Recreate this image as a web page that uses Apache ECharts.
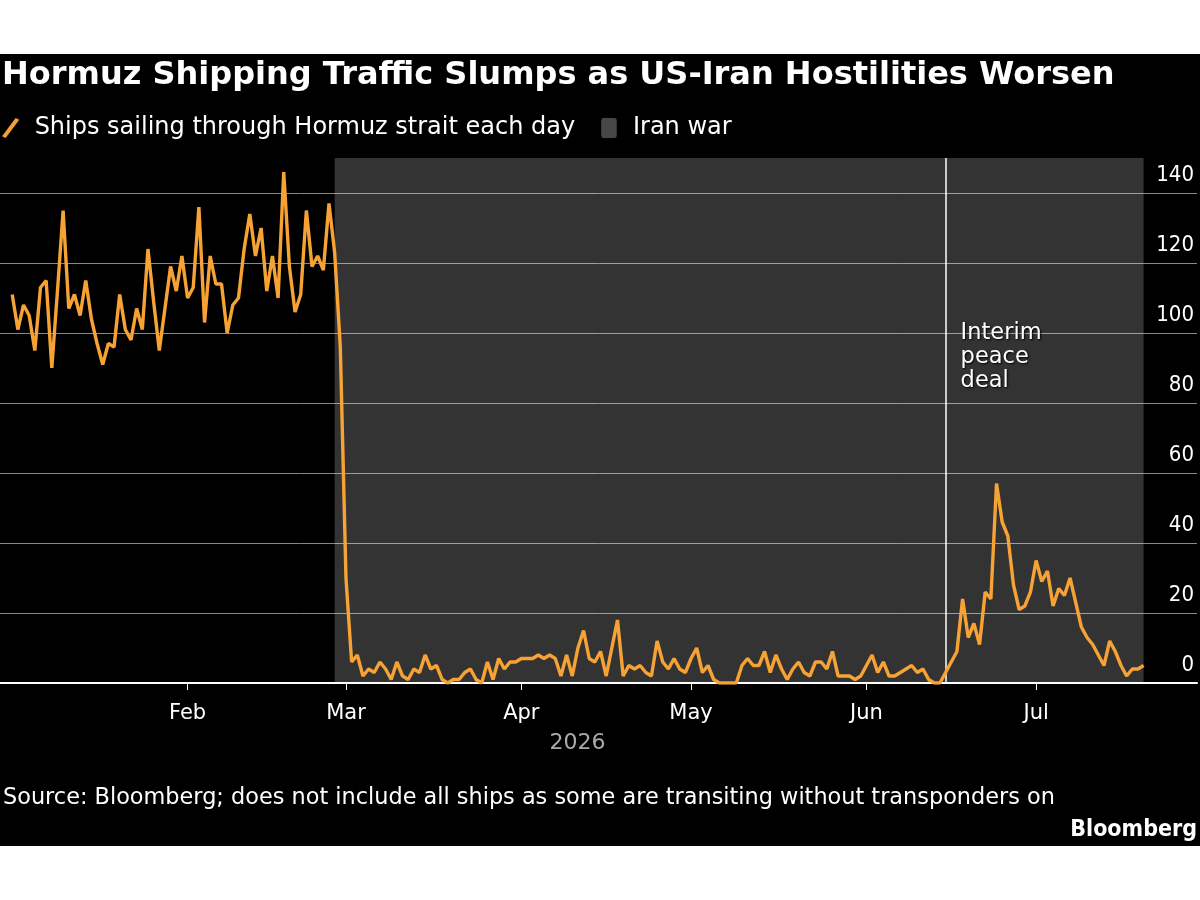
<!DOCTYPE html>
<html>
<head>
<meta charset="utf-8">
<script src="https://cdn.jsdelivr.net/npm/echarts@6/dist/echarts.min.js"></script>
<style>
  html, body { margin: 0; padding: 0; background: #fff; }
  #chart { position: absolute; left: 0; top: 54px; width: 1200px; height: 792px; }
</style>
</head>
<body>
<div id="chart"></div>
<script>
// daily ship counts, 2026 (one value per day, starting Jan 1)
var janShips = [111,101,108,105,95,113,115,90,112,135,107,111,105,115,104,97,91,97,96,111,101,98,107,101,124,109,95,107,119,112,122];
var febShips = [110,113,136,103,122,114,114,100,108,110,124,134,122,130,112,122,110,146,119,106,111,135,119,122,118,137,123,96];
var marShips = [30,6,8,2,4,3,6,4,1,6,2,1,4,3,8,4,5,1,0,1,1,3,4,1,0,6,1,7,4,6,6];
var aprShips = [7,7,7,8,7,8,7,2,8,2,10,15,7,6,9,2,10,18,2,5,4,5,3,2,12,6,4,7,4,3];
var mayShips = [7,10,3,5,1,0,0,0,0,5,7,5,5,9,3,8,4,1,4,6,3,2,6,6,4,9,2,2,2,1,2];
var junShips = [5,8,3,6,2,2,3,4,5,3,4,1,0,0,3,6,9,24,13,17,11,26,24,57,46,42,28,21,22,26];
var julShips = [35,29,32,22,27,25,30,23,16,13,11,8,5,12,9,5,2,4,4,5];

var monthTicks = [[1,'Feb'],[2,'Mar'],[3,'Apr'],[4,'May'],[5,'Jun'],[6,'Jul']];
var yTicks = [0,20,40,60,80,100,120,140];

var DAY = 86400000;
var jan1 = new Date(2026, 0, 1).getTime();
function dayOf(m, d) { return Math.round((new Date(2026, m, d).getTime() - jan1) / DAY); }

var warStart = dayOf(1, 27);
var warEnd = dayOf(6, 20);
var peaceDeal = dayOf(5, 15);

var FONT = "'DejaVu Sans', sans-serif";
var FONT_C = "'DejaVu Sans Condensed', 'DejaVu Sans', sans-serif";

var allShips = janShips.concat(febShips, marShips, aprShips, mayShips, junShips, julShips);
var shipData = [];
for (var i = 0; i < allShips.length; i++) {
    shipData.push([i, allShips[i]]);
}
var tickValues = [], tickNames = {};
for (var j = 0; j < monthTicks.length; j++) {
    var t = dayOf(monthTicks[j][0], 1);
    tickValues.push(t);
    tickNames[t] = monthTicks[j][1];
}

var myChart = echarts.init(document.getElementById('chart'));
var option = {
    backgroundColor: '#000',
    animation: false,
    title: {
        text: 'Hormuz Shipping Traffic Slumps as US-Iran Hostilities Worsen',
        left: 2, top: 6, padding: 0,
        textStyle: { color: '#fff', fontSize: 32, fontWeight: 'bold', fontFamily: FONT }
    },
    legend: {
        left: 2, top: 62, padding: 0,
        itemGap: 26,
        textStyle: { color: '#fff', fontSize: 24, fontFamily: FONT, padding: [0, 0, 0, 10] },
        data: [
            { name: 'Ships sailing through Hormuz strait each day', icon: 'path://M15,0 L19,2 L4,22 L0,20 Z', itemStyle: { color: '#f5a033' } },
            { name: 'Iran war', icon: 'path://M2,0 H12 Q14,0 14,2 V16 Q14,18 12,18 H2 Q0,18 0,16 V2 Q0,0 2,0 Z', itemStyle: { color: '#474747' } }
        ],
        itemWidth: 18, itemHeight: 20,
        selectedMode: false
    },
    grid: { left: 0, right: 3, top: 104, bottom: 163, outerBoundsMode: 'none' },
    xAxis: {
        type: 'value',
        min: -2.157,
        max: 209.44,
        axisLine: { show: true, lineStyle: { color: '#fff', width: 2 } },
        axisTick: { show: true, customValues: tickValues, length: 7, lineStyle: { color: '#fff', width: 1 } },
        axisLabel: {
            customValues: tickValues,
            color: '#fff', fontSize: 21, fontFamily: FONT, margin: 20,
            formatter: function (v) { return tickNames[v] || ''; }
        },
        splitLine: { show: false },
        name: '2026',
        nameLocation: 'middle',
        nameGap: 49,
        nameTextStyle: { color: '#aaaaaa', fontSize: 22, fontFamily: FONT, padding: [0, 42, 0, 0] }
    },
    yAxis: {
        type: 'value',
        position: 'right',
        min: 0, max: 150,
        axisLine: { show: false },
        axisTick: { show: false, customValues: yTicks },
        axisLabel: {
            customValues: yTicks,
            inside: true, margin: 3,
            color: '#fff', fontSize: 22, fontFamily: FONT_C,
            verticalAlign: 'bottom', padding: [0, 0, 7, 0]
        },
        splitLine: { show: true, lineStyle: { color: '#888', width: 1 } }
    },
    series: [
        {
            name: 'Ships sailing through Hormuz strait each day',
            type: 'line',
            data: shipData,
            showSymbol: false,
            color: '#f5a033',
            lineStyle: { color: '#f7a234', width: 3.4 },
            z: 5,
            markArea: {
                silent: true,
                itemStyle: { color: 'rgba(255,255,255,0.2)' },
                data: [[{ xAxis: warStart }, { xAxis: warEnd }]]
            },
            markLine: {
                silent: true,
                symbol: 'none',
                label: { show: false },
                lineStyle: { color: '#fff', width: 1.5, type: 'solid' },
                data: [{ xAxis: peaceDeal }]
            },
            markPoint: {
                silent: true,
                symbol: 'circle', symbolSize: 0,
                label: {
                    show: true, position: 'right', distance: 15,
                    formatter: 'Interim\npeace\ndeal',
                    color: '#fff', fontSize: 22.5, lineHeight: 24, fontFamily: FONT,
                    align: 'left',
                    textShadowColor: '#000', textShadowBlur: 2, textShadowOffsetX: 1, textShadowOffsetY: 1
                },
                data: [{ coord: [peaceDeal, 93] }]
            }
        },
        {
            name: 'Iran war',
            type: 'line',
            data: [],
            color: '#474747'
        }
    ],
    graphic: [
        {
            type: 'text', left: 3, top: 733,
            style: {
                text: 'Source: Bloomberg; does not include all ships as some are transiting without transponders on',
                fill: '#fff', fontSize: 22.4, fontFamily: FONT
            }
        },
        {
            type: 'text', right: 3, top: 765,
            style: { text: 'Bloomberg', fill: '#fff', fontSize: 23, fontWeight: 'bold', fontFamily: FONT_C }
        }
    ]
};
myChart.setOption(option);
</script>
</body>
</html>
